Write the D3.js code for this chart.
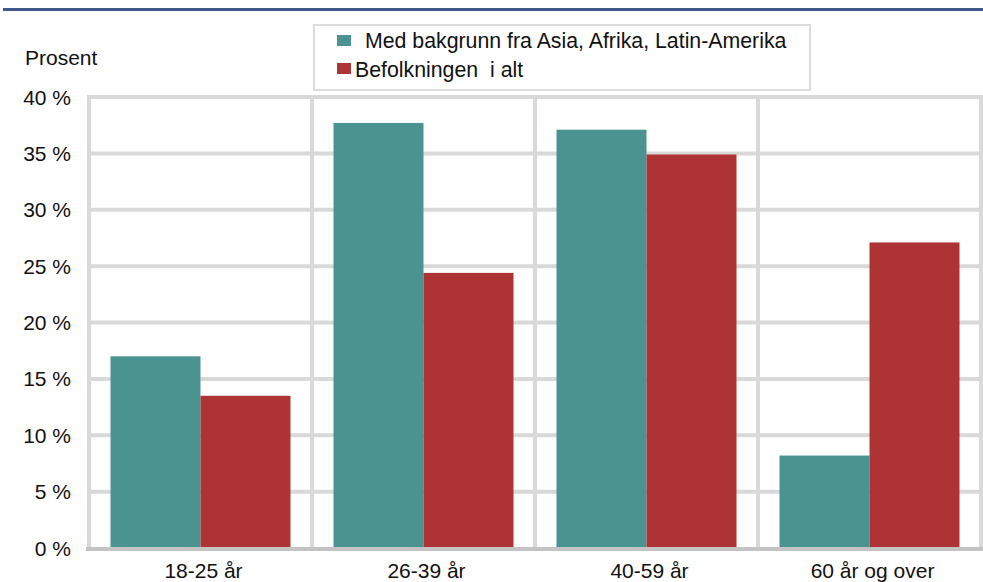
<!DOCTYPE html>
<html><head><meta charset="utf-8">
<script src="https://cdn.jsdelivr.net/npm/d3@7/dist/d3.min.js"></script>
<style>body{margin:0;background:#fff}svg{display:block;font-family:Arial,"Liberation Sans",sans-serif}</style>
</head><body><svg id="c" width="983" height="582"></svg>
<script>
const categories = ["18-25 år", "26-39 år", "40-59 år", "60 år og over"];
const seriesNames = ["Med bakgrunn fra Asia, Afrika, Latin-Amerika", "Befolkningen  i alt"];
const asiaAfrikaLatin = [17.0, 37.7, 37.1, 8.2];
const befolkningen = [13.5, 24.4, 34.9, 27.1];
const yTicks = [0, 5, 10, 15, 20, 25, 30, 35, 40];
const colors = ["#4a9390", "#ad3334"];
const seriesValues = [asiaAfrikaLatin, befolkningen];

const svg = d3.select("#c");
const L = 89, R = 981, T = 97, B = 548;
const x0 = d3.scaleBand().domain(categories).range([L, R]).padding(0);
const x1 = d3.scaleBand().domain(seriesNames).range([0, x0.bandwidth()]).paddingInner(0).paddingOuter(0.239);
const y = d3.scaleLinear().domain([0, 40]).range([B, T]);

// top rule
svg.append("rect").attr("x", 3).attr("y", 8).attr("width", 980).attr("height", 3).attr("fill", "#41598a");

// horizontal grid
svg.append("g").selectAll("line").data(yTicks.filter(d => d > 0)).join("line")
  .attr("x1", L - 2).attr("x2", R + 1).attr("y1", d => y(d)).attr("y2", d => y(d))
  .attr("stroke", "#d9d9d9").attr("stroke-width", 4);
// vertical grid
const vx = categories.map(c => x0(c)).concat([R]);
svg.append("g").selectAll("line").data(vx).join("line")
  .attr("x1", d => d).attr("x2", d => d).attr("y1", T - 2).attr("y2", B)
  .attr("stroke", "#d9d9d9").attr("stroke-width", 4);

// bars
const g = svg.append("g");
categories.forEach((c, i) => {
  seriesNames.forEach((s, j) => {
    const v = seriesValues[j][i];
    g.append("rect").attr("x", x0(c) + x1(s)).attr("width", x1.bandwidth())
      .attr("y", y(v)).attr("height", y(0) - y(v)).attr("fill", colors[j]);
  });
});

// baseline
svg.append("line").attr("x1", L - 3).attr("x2", 983).attr("y1", B + 1).attr("y2", B + 1)
  .attr("stroke", "#c4c4c4").attr("stroke-width", 4);

// y labels
svg.append("g").selectAll("text").data(yTicks).join("text")
  .attr("x", 71).attr("y", d => y(d) + 7.5).attr("text-anchor", "end")
  .attr("font-size", 21).attr("fill", "#111").text(d => d + " %");
svg.append("text").attr("x", 25).attr("y", 65).attr("font-size", 21).attr("fill", "#111").text("Prosent");

// x labels
svg.append("g").selectAll("text").data(categories).join("text")
  .attr("x", d => x0(d) + x0.bandwidth() / 2 + 3).attr("y", 578).attr("text-anchor", "middle")
  .attr("font-size", 21).attr("fill", "#111").text(d => d);

// legend
svg.append("rect").attr("x", 314).attr("y", 25).attr("width", 496).attr("height", 65)
  .attr("fill", "#fff").attr("stroke", "#dcdcdc").attr("stroke-width", 2);
svg.append("rect").attr("x", 337).attr("y", 35).attr("width", 14).attr("height", 11).attr("fill", colors[0]);
svg.append("text").attr("x", 365).attr("y", 48).attr("font-size", 21.3).attr("fill", "#111").text(seriesNames[0]);
svg.append("rect").attr("x", 337).attr("y", 63).attr("width", 14).attr("height", 11).attr("fill", colors[1]);
svg.append("text").attr("x", 355).attr("y", 77).attr("font-size", 21.3).attr("fill", "#111")
  .attr("xml:space", "preserve").style("white-space", "pre").text(seriesNames[1]);
</script></body></html>
